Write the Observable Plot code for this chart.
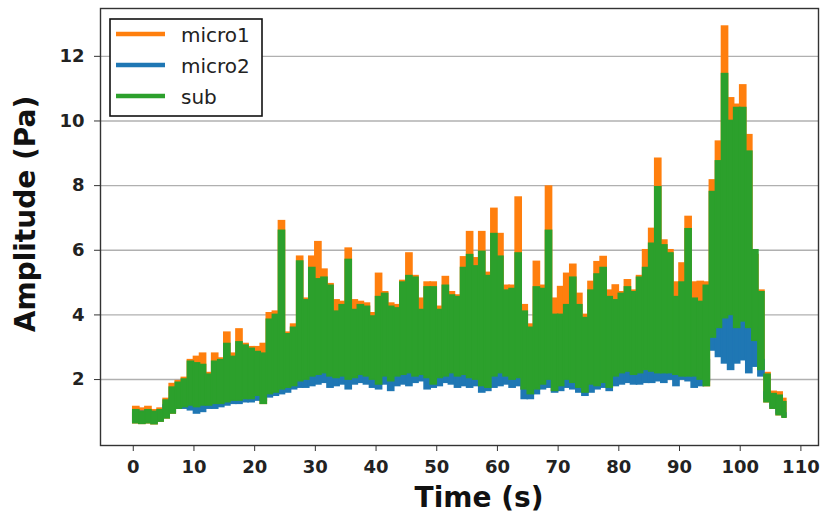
<!DOCTYPE html>
<html>
<head>
<meta charset="utf-8">
<script src="https://cdn.jsdelivr.net/npm/d3@7"></script>
<script src="https://cdn.jsdelivr.net/npm/@observablehq/plot@0.6"></script>
<style>
  body { margin: 0; background: #fff; }
  #chart { position: relative; width: 822px; height: 513px; }
  #chart svg { font-family: "DejaVu Sans", sans-serif; }
</style>
</head>
<body>
<div id="chart"></div>
<script>
// ---- data (1-second bins) ----
const times = [
  0,1,2,3,4,5,6,7,8,9, 10,11,12,13,14,15,16,17,18,19,
  20,21,22,23,24,25,26,27,28,29, 30,31,32,33,34,35,36,37,38,39,
  40,41,42,43,44,45,46,47,48,49, 50,51,52,53,54,55,56,57,58,59,
  60,61,62,63,64,65,66,67,68,69, 70,71,72,73,74,75,76,77,78,79,
  80,81,82,83,84,85,86,87,88,89, 90,91,92,93,94,95,96,97,98,99,
  100,101,102,103,104,105,106,107
];
const endTime = 107.6;

const subMax = [
  1.05,1.0,1.05,1.0,1.05,1.35,1.75,1.9,2.0,2.55,
  2.5,2.45,2.15,2.55,2.6,3.1,2.7,3.15,3.05,2.95,
  2.85,2.8,3.85,4.0,6.6,3.4,3.6,5.65,4.45,5.45,
  5.1,5.15,4.9,4.1,4.3,5.7,4.15,4.3,4.25,3.95,
  4.55,4.65,4.25,4.2,5.0,5.2,5.15,4.15,4.85,4.85,
  4.15,4.9,4.6,4.55,5.45,5.85,5.5,5.95,5.2,6.5,
  5.8,4.75,4.8,5.9,4.1,3.6,4.85,4.8,6.6,4.0,
  4.0,4.3,5.15,4.3,3.9,4.75,5.25,5.45,4.55,4.45,
  4.65,4.85,4.7,5.15,5.45,6.2,7.95,6.15,5.9,4.55,
  5.0,6.65,4.5,4.4,4.9,7.8,8.75,11.45,10.0,10.4,
  10.4,9.05,6.0,4.7,2.15,1.55,1.5,1.3
];
const subMin = [
  0.65,0.63,0.65,0.62,0.7,0.8,0.95,1.1,1.15,1.2,
  1.15,1.2,1.2,1.25,1.25,1.3,1.35,1.35,1.4,1.4,
  1.5,1.25,1.55,1.6,1.7,1.75,1.8,1.95,2.0,2.1,
  2.15,2.2,2.1,2.05,2.1,2.0,2.05,2.15,2.1,2.0,
  1.85,2.1,1.95,2.1,2.15,2.2,2.1,2.15,2.05,1.85,
  2.05,2.1,2.2,2.1,2.15,2.05,2.0,1.8,1.75,2.1,
  2.2,2.1,2.0,2.05,1.7,1.55,1.7,1.85,2.0,1.65,
  1.8,2.0,1.9,1.75,1.6,1.85,1.8,1.9,1.75,2.1,
  2.2,2.25,2.15,2.2,2.3,2.25,2.2,2.2,2.2,2.15,
  2.1,2.1,2.1,2.0,1.8,3.3,3.6,3.9,4.0,3.6,
  3.8,3.6,3.2,2.3,1.3,1.1,0.9,0.82
];
const micro1Max = [
  1.15,1.1,1.15,1.05,1.1,1.4,1.86,1.95,2.05,2.6,
  2.7,2.8,2.2,2.8,2.65,3.45,2.8,3.55,3.1,3.0,
  3.0,3.1,4.05,4.1,6.9,3.45,3.7,5.8,4.5,5.8,
  6.25,5.4,4.95,4.45,4.4,6.05,4.45,4.4,4.35,4.05,
  5.27,4.7,4.35,4.3,5.05,5.9,5.2,4.5,5.0,5.0,
  4.25,5.17,4.7,4.6,5.78,6.56,5.75,6.56,5.3,7.28,
  6.5,4.9,4.9,7.63,4.3,3.7,5.64,4.9,7.97,4.5,
  4.86,5.27,5.55,4.65,4.0,5.02,5.63,5.79,4.75,4.91,
  4.7,5.07,4.75,5.2,6.0,6.66,8.83,6.3,6.0,5.0,
  5.59,7.03,5.0,5.02,5.0,8.16,9.36,12.92,10.7,10.5,
  11.1,9.56,5.85,4.75,2.2,1.62,1.6,1.4
];
const micro2Min = [
  0.7,0.7,0.72,0.68,0.75,0.85,1.0,1.1,1.1,1.05,
  0.95,1.0,1.1,1.1,1.15,1.2,1.25,1.25,1.3,1.3,
  1.35,1.35,1.45,1.5,1.55,1.6,1.7,1.75,1.75,1.8,
  1.85,1.9,1.75,1.8,1.85,1.7,1.85,1.9,1.85,1.75,
  1.7,1.85,1.65,1.8,1.85,1.8,1.9,1.95,1.7,1.75,
  1.8,1.9,1.85,1.75,1.8,1.75,1.8,1.6,1.65,1.75,
  1.8,1.85,1.75,1.8,1.4,1.4,1.55,1.7,1.75,1.6,
  1.65,1.75,1.7,1.6,1.5,1.6,1.7,1.75,1.65,1.8,
  1.85,1.9,1.85,1.85,1.9,1.9,1.95,1.9,2.0,1.8,
  2.0,1.95,1.75,1.8,1.95,2.9,2.7,2.5,2.3,2.5,
  2.6,2.2,2.4,2.1,1.4,1.15,0.95,0.85
];
const micro2Max = [
  0.95,1.0,1.0,0.95,1.0,1.2,1.4,1.5,1.55,1.7,
  1.6,1.65,1.6,1.7,1.75,1.8,1.8,1.85,1.9,1.9,
  1.95,1.9,2.05,2.1,2.15,2.2,2.3,2.4,2.5,2.45,
  2.5,2.55,2.45,2.4,2.5,2.6,2.55,2.5,2.45,2.4,
  2.45,2.5,2.4,2.5,2.6,3.0,2.6,2.5,2.45,2.4,
  2.5,3.1,2.55,2.45,2.5,2.55,2.5,2.4,2.45,2.55,
  2.6,2.55,2.7,2.6,2.3,2.2,2.4,2.5,2.55,2.3,
  2.4,2.5,2.45,2.4,2.3,2.4,2.5,2.55,2.4,2.5,
  2.6,2.55,2.6,2.55,2.6,2.65,2.7,2.6,2.7,2.55,
  2.6,2.7,2.5,2.5,2.6,3.8,4.4,4.75,4.3,4.0,
  4.4,3.9,3.6,2.6,1.6,1.25,1.05,0.95
];

const seriesNames = ["micro1", "micro2", "sub"];
const seriesColors = ["#ff7f0e", "#1f77b4", "#2ca02c"];
const xTicks = [0, 10, 20, 30, 40, 50, 60, 70, 80, 90, 100, 110];
const yTicks = [2, 4, 6, 8, 10, 12];
const xLabel = "Time (s)";
const yLabel = "Amplitude (Pa)";

// ---- table ----
const rows = times.map((t, i) => ({
  t,
  t2: i < times.length - 1 ? times[i + 1] : endTime,
  subMax: subMax[i], subMin: subMin[i],
  m1Max: micro1Max[i],
  m2Min: micro2Min[i], m2Max: micro2Max[i]
}));

const [cM1, cM2, cSub] = seriesColors;

const plot = Plot.plot({
  width: 822,
  height: 513,
  marginLeft: 100,
  marginRight: 4,
  marginTop: 8,
  marginBottom: 68,
  x: { domain: [-5.4, 112.9] },
  y: { domain: [-0.04, 13.48] },
  marks: [
    Plot.gridY(yTicks, { stroke: "#b0b0b0", strokeOpacity: 1, strokeWidth: 1.4 }),
    Plot.rect(rows, { x1: "t", x2: "t2", y1: "subMin", y2: "m1Max", fill: cM1, stroke: cM1, strokeWidth: 1.6 }),
    Plot.rect(rows, { x1: "t", x2: "t2", y1: "m2Min", y2: "m2Max", fill: cM2, stroke: cM2, strokeWidth: 1.6 }),
    Plot.rect(rows, { x1: "t", x2: "t2", y1: "subMin", y2: "subMax", fill: cSub, stroke: cSub, strokeWidth: 1.6 }),
    Plot.frame({ stroke: "#333", strokeWidth: 1.4 }),
    Plot.axisX(xTicks, { tickSize: 6, tickPadding: 9, fontSize: 18, fontWeight: "bold", fill: "#222", stroke: "#333", label: null }),
    Plot.axisY(yTicks, { tickSize: 6, tickPadding: 10, fontSize: 18, fontWeight: "bold", fill: "#222", stroke: "#333", label: null })
  ]
});

document.getElementById("chart").appendChild(plot);

const svg = d3.select(plot);
// axis titles
svg.append("text")
  .attr("x", 479).attr("y", 507)
  .attr("text-anchor", "middle")
  .attr("font-size", 28).attr("font-weight", "bold").attr("fill", "#111")
  .text(xLabel);
svg.append("text")
  .attr("transform", "translate(35,214) rotate(-90)")
  .attr("text-anchor", "middle")
  .attr("font-size", 28).attr("font-weight", "bold").attr("fill", "#111")
  .text(yLabel);

// legend
const lg = svg.append("g");
lg.append("rect")
  .attr("x", 110).attr("y", 19).attr("width", 152).attr("height", 97)
  .attr("fill", "#fff").attr("stroke", "#111").attr("stroke-width", 1.6);
seriesNames.forEach((name, i) => {
  const y = 34 + i * 31;
  lg.append("line")
    .attr("x1", 116).attr("x2", 165).attr("y1", y).attr("y2", y)
    .attr("stroke", seriesColors[i]).attr("stroke-width", 4.5);
  lg.append("text")
    .attr("x", 181).attr("y", y + 1)
    .attr("text-anchor", "start")
    .attr("dominant-baseline", "central")
    .attr("font-size", 20).attr("fill", "#222")
    .text(name);
});
</script>
</body>
</html>
